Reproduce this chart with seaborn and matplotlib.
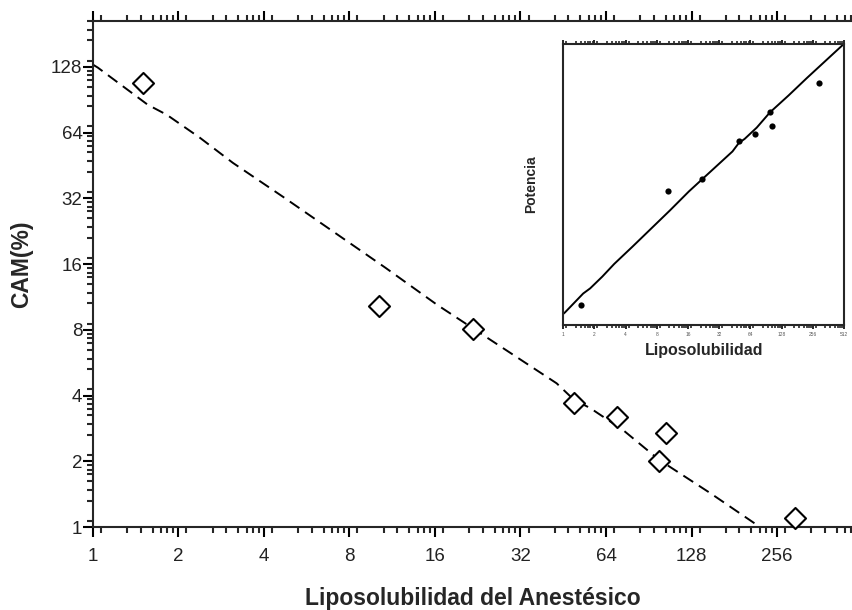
import numpy as np
import pandas as pd
import matplotlib
matplotlib.use("Agg")
import matplotlib.pyplot as plt
import matplotlib.ticker as mticker
import seaborn as sns

# measured points: liposolubility vs MAC (%)
liposol = [1.50, 10.2, 21.8, 49.4, 70.0, 104.0, 98.5, 296.0]
cam = [108.0, 10.3, 8.07, 3.70, 3.19, 2.70, 2.01, 1.096]

# hand-drawn trend line
line_x = [1.0, 1.04, 1.56, 1.82, 2.38, 3.11, 4.67, 10.7, 16.3, 42.9, 49.4, 56.2, 73.5, 98.5, 149.0, 223.0, 512.0]
line_cam = [131.0, 127.0, 85.8, 77.2, 60.6, 46.5, 32.5, 15.4, 10.4, 4.55, 3.82, 3.51, 2.78, 2.03, 1.43, 1.0, 0.49]

x_ticks = [1, 2, 4, 8, 16, 32, 64, 128, 256, 512]
y_ticks = [1, 2, 4, 8, 16, 32, 64, 128]

df = pd.DataFrame({"x": liposol, "cam": cam})
df["potencia"] = 1.0 / df["cam"]
line = pd.DataFrame({"x": line_x, "cam": line_cam})
line["potencia"] = 1.0 / line["cam"]

sns.set_theme(style="ticks")
plt.rcParams['font.family'] = ['Liberation Sans Narrow', 'Liberation Sans', 'DejaVu Sans']
plt.rcParams['axes.linewidth'] = 1.5

# odd minor tick pattern of the original, as fractions of an octave
frac = [0.094, 0.40, 0.56, 0.70, 0.80, 0.87, 0.94]
def minor_pos(n):
    return [2 ** (k + f) for k in range(n) for f in frac]

fig = plt.figure(figsize=(8.52, 6.10), dpi=100)
ax = fig.add_axes([0.109, 0.136, 0.891, 0.830])

sns.lineplot(data=line, x="x", y="cam", ax=ax, estimator=None, sort=False,
             color="black", lw=1.4, linestyle=(0, (6, 3.5)))
sns.scatterplot(data=df, x="x", y="cam", ax=ax, marker="D", s=115,
                facecolor="white", edgecolor="black", linewidth=1.5, zorder=5, clip_on=False)

ax.set_xscale("log", base=2)
ax.set_yscale("log", base=2)
ax.set_xlim(1, 470)
ax.set_ylim(1, 208)
ax.xaxis.set_major_locator(mticker.FixedLocator(x_ticks))
ax.xaxis.set_major_formatter(mticker.FixedFormatter([str(t) for t in x_ticks]))
ax.yaxis.set_major_locator(mticker.FixedLocator(y_ticks))
ax.yaxis.set_major_formatter(mticker.FixedFormatter([str(t) for t in y_ticks]))
ax.xaxis.set_minor_locator(mticker.FixedLocator(minor_pos(9)))
ax.yaxis.set_minor_locator(mticker.FixedLocator(minor_pos(8)))
ax.xaxis.set_minor_formatter(mticker.NullFormatter())
ax.yaxis.set_minor_formatter(mticker.NullFormatter())
ax.spines['right'].set_visible(False)
ax.tick_params(which='major', direction='out', length=7, width=1.5, top=True,
               labeltop=False, labelsize=13.5, colors='black')
ax.tick_params(which='minor', direction='out', length=4, width=1.5, top=True)
ax.tick_params(axis='x', which='major', pad=8)
ax.tick_params(axis='y', which='major', pad=0.5)
for lab in ax.get_xticklabels() + ax.get_yticklabels():
    lab.set_color('#222222')

ax.set_xlabel("Liposolubilidad del Anestésico", fontsize=16.5, fontweight='bold',
              family=['Liberation Sans', 'DejaVu Sans'])
ax.set_ylabel("CAM(%)", fontsize=16.5, fontweight='bold',
              family=['Liberation Sans', 'DejaVu Sans'])
ax.xaxis.set_label_coords(0.5, -0.118)
ax.yaxis.set_label_coords(-0.079, 0.52)

# inset: potency = 1 / MAC
ins = fig.add_axes([0.661, 0.467, 0.3298, 0.461])
sns.lineplot(data=line, x="x", y="potencia", ax=ins, estimator=None, sort=False,
             color="black", lw=1.4)
sns.scatterplot(data=df, x="x", y="potencia", ax=ins, s=20, color="black",
                edgecolor="black", linewidth=0, zorder=5)
ins.set_xscale("log", base=2)
ins.set_yscale("log", base=2)
ins.set_xlim(1, 512)
ins.set_ylim(0.00606, 2.03)
ins.xaxis.set_major_locator(mticker.FixedLocator(x_ticks))
ins.xaxis.set_major_formatter(mticker.FixedFormatter([str(t) for t in x_ticks]))
ins.xaxis.set_minor_locator(mticker.FixedLocator(minor_pos(9)))
ins.xaxis.set_minor_formatter(mticker.NullFormatter())
ins.yaxis.set_major_locator(mticker.NullLocator())
ins.yaxis.set_minor_locator(mticker.NullLocator())
ins.tick_params(which='major', direction='out', length=3, width=1.2, top=True,
                labeltop=False, labelsize=3.5, pad=2, colors='black')
ins.tick_params(which='minor', direction='out', length=2, width=1.2, top=True)
for lab in ins.get_xticklabels():
    lab.set_color('#555555')
ins.set_xlabel("Liposolubilidad", fontsize=11.5, fontweight='bold',
               family=['Liberation Sans Narrow', 'Liberation Sans', 'DejaVu Sans'], labelpad=4)
ins.set_ylabel("Potencia", fontsize=10, fontweight='bold',
               family=['Liberation Sans', 'DejaVu Sans'], labelpad=18)

fig.savefig("out.png", dpi=100)
